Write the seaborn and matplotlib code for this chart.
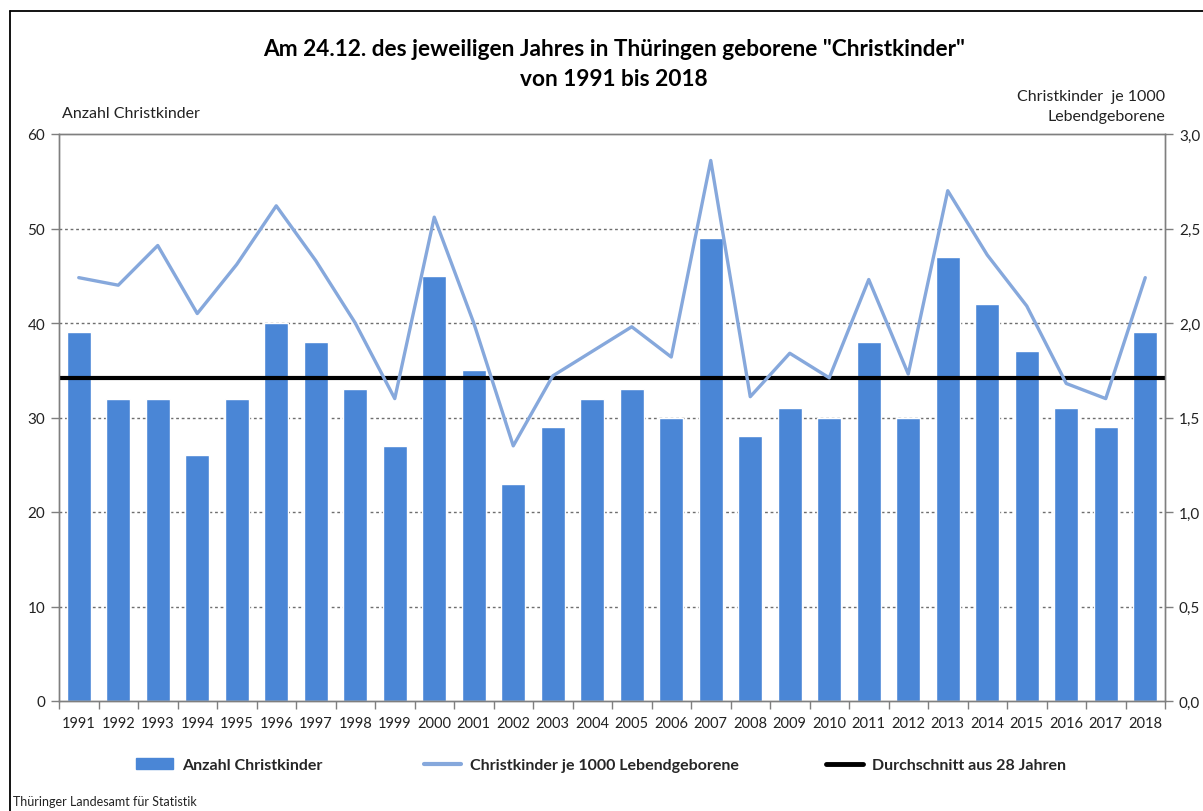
import numpy as np
import pandas as pd
import matplotlib
matplotlib.use('Agg')
import matplotlib.pyplot as plt
import seaborn as sns
from matplotlib.lines import Line2D
from matplotlib.patches import Patch
from matplotlib.ticker import FuncFormatter, FixedLocator

# Data
years = [str(y) for y in range(1991, 2019)]
anzahl = [39, 32, 32, 26, 32, 40, 38, 33, 27, 45, 35, 23, 29, 32,
          33, 30, 49, 28, 31, 30, 38, 30, 47, 42, 37, 31, 29, 39]
je_1000 = [2.24, 2.20, 2.41, 2.05, 2.31, 2.62, 2.33, 2.00, 1.60, 2.56,
           2.00, 1.35, 1.72, 1.85, 1.98, 1.82, 2.86, 1.61, 1.84, 1.71,
           2.23, 1.73, 2.70, 2.36, 2.09, 1.68, 1.60, 2.24]

df = pd.DataFrame({'Jahr': years, 'Anzahl': anzahl, 'Rate': je_1000})
durchschnitt = df['Anzahl'].mean()

bar_color = '#4A86D6'
line_color = '#86A8DC'
grid_color = '#6E6E6E'
spine_color = '#7F7F7F'

sns.set_theme(style='white')
plt.rcParams['font.family'] = ['Lato', 'DejaVu Sans']

fig = plt.figure(figsize=(12.03, 8.12), dpi=100)
ax = fig.add_axes([59 / 1203, 1 - 702 / 812, 1106 / 1203, 567 / 812])

sns.barplot(data=df, x='Jahr', y='Anzahl', color=bar_color, saturation=1,
            width=0.6, ax=ax, zorder=2)
ax.set_xlim(-0.5, len(years) - 0.5)
ax.set_ylim(0, 60)
ax.set_yticks(range(0, 61, 10))
for v in range(10, 60, 10):
    ax.axhline(v, color=grid_color, lw=1, ls=(0, (2, 2)), zorder=1)

ax.axhline(durchschnitt, color='black', lw=3, zorder=4)

ax2 = ax.twinx()
sns.lineplot(x=np.arange(len(years)), y=df['Rate'], color=line_color, lw=2.4,
             ax=ax2, zorder=3)
ax2.set_ylim(0, 3)
ax2.set_yticks(np.arange(0, 3.01, 0.5))
ax2.yaxis.set_major_formatter(FuncFormatter(lambda v, p: f'{v:.1f}'.replace('.', ',')))
ax2.set_xlim(-0.5, len(years) - 0.5)
ax2.set_ylabel('')

for a in (ax, ax2):
    for s in a.spines.values():
        s.set_color(spine_color)
        s.set_linewidth(1)
ax.set_xlabel('')
ax.set_ylabel('')
ax.tick_params(axis='y', which='major', left=True, length=6, width=1,
               color=spine_color, labelsize=11, labelcolor='#222222', pad=4)
ax2.tick_params(axis='y', which='major', right=True, length=6, width=1,
                color=spine_color, labelsize=11, labelcolor='#222222', pad=4)
ax.tick_params(axis='x', which='major', length=0, labelsize=10.5,
               labelcolor='#222222', pad=11)
ax.xaxis.set_minor_locator(FixedLocator(np.arange(-0.5, len(years), 1.0)))
ax.tick_params(axis='x', which='minor', bottom=True, length=6, width=1,
               color=spine_color)
ax2.tick_params(axis='x', which='both', length=0)

# Titles
fig.text(614 / 1203, 1 - 50 / 812,
         'Am 24.12. des jeweiligen Jahres in Thüringen geborene "Christkinder"',
         ha='center', va='center', fontsize=16.3, fontweight='bold', color='black')
fig.text(614 / 1203, 1 - 80 / 812, 'von 1991 bis 2018', ha='center',
         va='center', fontsize=16.3, fontweight='bold', color='black')
fig.text(62 / 1203, 1 - 114 / 812, 'Anzahl Christkinder', ha='left',
         va='center', fontsize=11.5, color='#222222')
fig.text(1165 / 1203, 1 - 97 / 812, 'Christkinder  je 1000', ha='right',
         va='center', fontsize=11.5, color='#222222')
fig.text(1165 / 1203, 1 - 117 / 812, 'Lebendgeborene', ha='right',
         va='center', fontsize=11.5, color='#222222')
fig.text(13 / 1203, 1 - 802 / 812, 'Thüringer Landesamt für Statistik',
         ha='left', va='center', fontsize=9, color='#222222')

# Legend: one entry per box, placed like the original
entries = [
    (Patch(facecolor=bar_color, edgecolor=bar_color), 'Anzahl Christkinder', 136),
    (Line2D([0], [0], color=line_color, lw=3), 'Christkinder je 1000 Lebendgeborene', 424),
    (Line2D([0], [0], color='black', lw=3.5), 'Durchschnitt aus 28 Jahren', 826),
]
for handle, label, xpos in entries:
    leg = fig.legend([handle], [label], loc='center left',
                     bbox_to_anchor=(xpos / 1203, 1 - 766 / 812), frameon=False,
                     prop={'weight': 'bold', 'size': 11.5}, handlelength=2.3,
                     handletextpad=0.6, borderaxespad=0, borderpad=0)

# Outer frame (left and top edges visible)
fig.add_artist(Line2D([10 / 1203, 10 / 1203], [0, 1 - 12 / 812],
                      color='black', lw=1.3))
fig.add_artist(Line2D([10 / 1203, 1], [1 - 12 / 812, 1 - 12 / 812],
                      color='black', lw=1.3))

fig.savefig('out.png', dpi=100)
